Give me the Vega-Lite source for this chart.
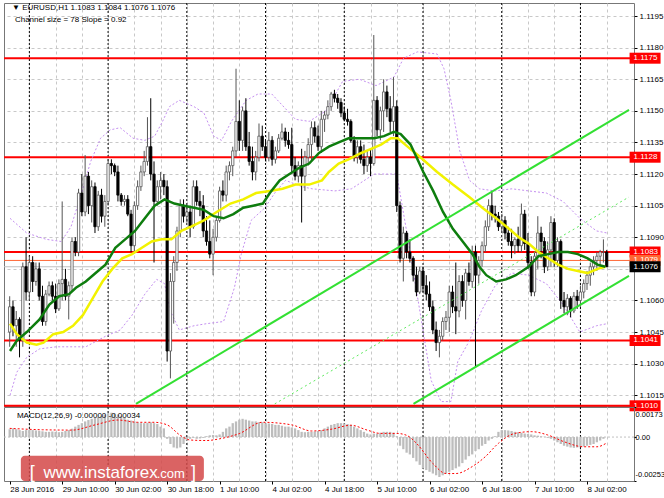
{
  "$schema": "https://vega.github.io/schema/vega-lite/v6.json",
  "background": "white",
  "padding": {"left": 2, "top": 2, "right": 0, "bottom": 0},
  "bounds": "flush",
  "spacing": 1,
  "config": {
    "view": {"stroke": "#777777", "strokeWidth": 1},
    "axis": {"labelFont": "Liberation Sans", "labelFontSize": 8, "labelColor": "#000000", "gridColor": "#c8c8c8", "gridDash": [3, 3], "tickColor": "#000000"},
    "text": {"font": "Liberation Sans", "fontSize": 8}
  },
  "datasets": {
    "days": [{"k": 6}, {"k": 30}, {"k": 54}, {"k": 78}, {"k": 102}, {"k": 126}, {"k": 150}, {"k": 174}],
    "levels": [
      {"p": 1.1175, "kind": "level"}, {"p": 1.1128, "kind": "level"}, {"p": 1.1083, "kind": "level"},
      {"p": 1.1041, "kind": "level"}, {"p": 1.1010, "kind": "level"},
      {"p": 1.1079, "kind": "ask"}, {"p": 1.1076, "kind": "bid"}
    ],
    "channel": [
      {"line": "upper", "k": 38.5, "p": 1.10109}, {"line": "upper", "k": 188.8, "p": 1.11505},
      {"line": "lower", "k": 123.1, "p": 1.10109}, {"line": "lower", "k": 188.8, "p": 1.10717}
    ],
    "channelMid": [{"k": 80.8, "p": 1.10109}, {"k": 188.8, "p": 1.11091}],
    "ohlc": [
      {"k":0,"o":1.1045,"h":1.1062,"l":1.1038,"c":1.1057},{"k":1,"o":1.1057,"h":1.1060,"l":1.1043,"c":1.1048},
      {"k":2,"o":1.1048,"h":1.1055,"l":1.1038,"c":1.1051},{"k":3,"o":1.1051,"h":1.1052,"l":1.1033,"c":1.1041},
      {"k":4,"o":1.1041,"h":1.1078,"l":1.1038,"c":1.1076},{"k":5,"o":1.1076,"h":1.1090,"l":1.1060,"c":1.1064},
      {"k":6,"o":1.1064,"h":1.1081,"l":1.1060,"c":1.1078},{"k":7,"o":1.1078,"h":1.1081,"l":1.1064,"c":1.1069},
      {"k":8,"o":1.1069,"h":1.1078,"l":1.1067,"c":1.1075},{"k":9,"o":1.1075,"h":1.1078,"l":1.1060,"c":1.1062},
      {"k":10,"o":1.1062,"h":1.1067,"l":1.1048,"c":1.1050},{"k":11,"o":1.1050,"h":1.1065,"l":1.1048,"c":1.1063},
      {"k":12,"o":1.1063,"h":1.1069,"l":1.1062,"c":1.1067},{"k":13,"o":1.1067,"h":1.1069,"l":1.1060,"c":1.1062},
      {"k":14,"o":1.1062,"h":1.1068,"l":1.1054,"c":1.1056},{"k":15,"o":1.1056,"h":1.1070,"l":1.1055,"c":1.1068},
      {"k":16,"o":1.1068,"h":1.1107,"l":1.1060,"c":1.1070},{"k":17,"o":1.1070,"h":1.1075,"l":1.1060,"c":1.1062},
      {"k":18,"o":1.1062,"h":1.1069,"l":1.1051,"c":1.1067},{"k":19,"o":1.1067,"h":1.1090,"l":1.1064,"c":1.1088},
      {"k":20,"o":1.1088,"h":1.1090,"l":1.1081,"c":1.1083},{"k":21,"o":1.1083,"h":1.1113,"l":1.1081,"c":1.1111},
      {"k":22,"o":1.1111,"h":1.1120,"l":1.1100,"c":1.1102},{"k":23,"o":1.1102,"h":1.1129,"l":1.1100,"c":1.1119},
      {"k":24,"o":1.1119,"h":1.1121,"l":1.1101,"c":1.1105},{"k":25,"o":1.1105,"h":1.1117,"l":1.1097,"c":1.1114},
      {"k":26,"o":1.1114,"h":1.1116,"l":1.1092,"c":1.1095},{"k":27,"o":1.1095,"h":1.1112,"l":1.1093,"c":1.1110},
      {"k":28,"o":1.1110,"h":1.1113,"l":1.1097,"c":1.1100},{"k":29,"o":1.1100,"h":1.1110,"l":1.1095,"c":1.1107},
      {"k":30,"o":1.1107,"h":1.1127,"l":1.1105,"c":1.1125},{"k":31,"o":1.1125,"h":1.1127,"l":1.1120,"c":1.1124},
      {"k":32,"o":1.1124,"h":1.1125,"l":1.1119,"c":1.1121},{"k":33,"o":1.1121,"h":1.1124,"l":1.1107,"c":1.1110},
      {"k":34,"o":1.1110,"h":1.1111,"l":1.1105,"c":1.1107},{"k":35,"o":1.1107,"h":1.1110,"l":1.1105,"c":1.1108},
      {"k":36,"o":1.1108,"h":1.1110,"l":1.1100,"c":1.1101},{"k":37,"o":1.1101,"h":1.1103,"l":1.1083,"c":1.1086},
      {"k":38,"o":1.1086,"h":1.1107,"l":1.1083,"c":1.1105},{"k":39,"o":1.1105,"h":1.1117,"l":1.1103,"c":1.1114},
      {"k":40,"o":1.1114,"h":1.1124,"l":1.1112,"c":1.1121},{"k":41,"o":1.1121,"h":1.1131,"l":1.1119,"c":1.1126},
      {"k":42,"o":1.1126,"h":1.1147,"l":1.1124,"c":1.1133},{"k":43,"o":1.1133,"h":1.1156,"l":1.1117,"c":1.1120},
      {"k":44,"o":1.1120,"h":1.1126,"l":1.1078,"c":1.1107},{"k":45,"o":1.1107,"h":1.1117,"l":1.1105,"c":1.1114},
      {"k":46,"o":1.1114,"h":1.1121,"l":1.1108,"c":1.1117},{"k":47,"o":1.1117,"h":1.1120,"l":1.1110,"c":1.1114},
      {"k":48,"o":1.1114,"h":1.1117,"l":1.1031,"c":1.1036},{"k":49,"o":1.1036,"h":1.1073,"l":1.1023,"c":1.1069},
      {"k":50,"o":1.1069,"h":1.1081,"l":1.1049,"c":1.1078},{"k":51,"o":1.1078,"h":1.1095,"l":1.1074,"c":1.1093},
      {"k":52,"o":1.1093,"h":1.1108,"l":1.1090,"c":1.1105},{"k":53,"o":1.1105,"h":1.1108,"l":1.1097,"c":1.1100},
      {"k":54,"o":1.1100,"h":1.1105,"l":1.1097,"c":1.1102},{"k":55,"o":1.1102,"h":1.1105,"l":1.1090,"c":1.1095},
      {"k":56,"o":1.1095,"h":1.1117,"l":1.1094,"c":1.1114},{"k":57,"o":1.1114,"h":1.1117,"l":1.1105,"c":1.1107},
      {"k":58,"o":1.1107,"h":1.1112,"l":1.1100,"c":1.1105},{"k":59,"o":1.1105,"h":1.1110,"l":1.1090,"c":1.1093},
      {"k":60,"o":1.1093,"h":1.1100,"l":1.1086,"c":1.1088},{"k":61,"o":1.1088,"h":1.1098,"l":1.1080,"c":1.1082},
      {"k":62,"o":1.1082,"h":1.1094,"l":1.1072,"c":1.1090},{"k":63,"o":1.1090,"h":1.1100,"l":1.1088,"c":1.1098},
      {"k":64,"o":1.1098,"h":1.1114,"l":1.1097,"c":1.1112},{"k":65,"o":1.1112,"h":1.1117,"l":1.1107,"c":1.1110},
      {"k":66,"o":1.1110,"h":1.1124,"l":1.1107,"c":1.1121},{"k":67,"o":1.1121,"h":1.1126,"l":1.1117,"c":1.1124},
      {"k":68,"o":1.1124,"h":1.1133,"l":1.1119,"c":1.1131},{"k":69,"o":1.1131,"h":1.1170,"l":1.1128,"c":1.1145},
      {"k":70,"o":1.1145,"h":1.1155,"l":1.1131,"c":1.1136},{"k":71,"o":1.1136,"h":1.1152,"l":1.1131,"c":1.1150},
      {"k":72,"o":1.1150,"h":1.1156,"l":1.1131,"c":1.1133},{"k":73,"o":1.1133,"h":1.1140,"l":1.1124,"c":1.1126},
      {"k":74,"o":1.1126,"h":1.1133,"l":1.1117,"c":1.1121},{"k":75,"o":1.1121,"h":1.1131,"l":1.1117,"c":1.1128},
      {"k":76,"o":1.1128,"h":1.1144,"l":1.1126,"c":1.1138},{"k":77,"o":1.1138,"h":1.1143,"l":1.1131,"c":1.1133},
      {"k":78,"o":1.1133,"h":1.1136,"l":1.1126,"c":1.1128},{"k":79,"o":1.1128,"h":1.1140,"l":1.1126,"c":1.1136},
      {"k":80,"o":1.1136,"h":1.1138,"l":1.1124,"c":1.1127},{"k":81,"o":1.1127,"h":1.1133,"l":1.1125,"c":1.1131},
      {"k":82,"o":1.1131,"h":1.1139,"l":1.1130,"c":1.1137},{"k":83,"o":1.1137,"h":1.1144,"l":1.1136,"c":1.1140},
      {"k":84,"o":1.1140,"h":1.1142,"l":1.1133,"c":1.1136},{"k":85,"o":1.1136,"h":1.1140,"l":1.1132,"c":1.1134},
      {"k":86,"o":1.1134,"h":1.1142,"l":1.1121,"c":1.1124},{"k":87,"o":1.1124,"h":1.1128,"l":1.1117,"c":1.1119},
      {"k":88,"o":1.1119,"h":1.1126,"l":1.1116,"c":1.1124},{"k":89,"o":1.1124,"h":1.1132,"l":1.1097,"c":1.1119},
      {"k":90,"o":1.1119,"h":1.1131,"l":1.1112,"c":1.1128},{"k":91,"o":1.1128,"h":1.1137,"l":1.1124,"c":1.1134},
      {"k":92,"o":1.1134,"h":1.1145,"l":1.1126,"c":1.1142},{"k":93,"o":1.1142,"h":1.1145,"l":1.1135,"c":1.1138},
      {"k":94,"o":1.1138,"h":1.1143,"l":1.1131,"c":1.1133},{"k":95,"o":1.1133,"h":1.1150,"l":1.1130,"c":1.1146},
      {"k":96,"o":1.1146,"h":1.1150,"l":1.1140,"c":1.1148},{"k":97,"o":1.1148,"h":1.1155,"l":1.1146,"c":1.1152},
      {"k":98,"o":1.1152,"h":1.1159,"l":1.1150,"c":1.1158},{"k":99,"o":1.1158,"h":1.1160,"l":1.1154,"c":1.1156},
      {"k":100,"o":1.1156,"h":1.1158,"l":1.1151,"c":1.1154},{"k":101,"o":1.1154,"h":1.1156,"l":1.1147,"c":1.1149},
      {"k":102,"o":1.1149,"h":1.1152,"l":1.1145,"c":1.1146},{"k":103,"o":1.1146,"h":1.1151,"l":1.1143,"c":1.1145},
      {"k":104,"o":1.1145,"h":1.1146,"l":1.1135,"c":1.1136},{"k":105,"o":1.1136,"h":1.1138,"l":1.1126,"c":1.1128},
      {"k":106,"o":1.1128,"h":1.1136,"l":1.1125,"c":1.1133},{"k":107,"o":1.1133,"h":1.1136,"l":1.1125,"c":1.1127},
      {"k":108,"o":1.1127,"h":1.1134,"l":1.1120,"c":1.1124},{"k":109,"o":1.1124,"h":1.1131,"l":1.1121,"c":1.1128},
      {"k":110,"o":1.1128,"h":1.1132,"l":1.1119,"c":1.1125},{"k":111,"o":1.1125,"h":1.1186,"l":1.1124,"c":1.1155},
      {"k":112,"o":1.1155,"h":1.1157,"l":1.1138,"c":1.1141},{"k":113,"o":1.1141,"h":1.1152,"l":1.1136,"c":1.1150},
      {"k":114,"o":1.1150,"h":1.1165,"l":1.1140,"c":1.1159},{"k":115,"o":1.1159,"h":1.1162,"l":1.1147,"c":1.1151},
      {"k":116,"o":1.1151,"h":1.1157,"l":1.1140,"c":1.1145},{"k":117,"o":1.1145,"h":1.1166,"l":1.1138,"c":1.1152},
      {"k":118,"o":1.1152,"h":1.1155,"l":1.1102,"c":1.1105},{"k":119,"o":1.1105,"h":1.1107,"l":1.1078,"c":1.1080},
      {"k":120,"o":1.1080,"h":1.1095,"l":1.1069,"c":1.1092},{"k":121,"o":1.1092,"h":1.1093,"l":1.1080,"c":1.1083},
      {"k":122,"o":1.1083,"h":1.1089,"l":1.1078,"c":1.1080},{"k":123,"o":1.1080,"h":1.1081,"l":1.1069,"c":1.1072},
      {"k":124,"o":1.1072,"h":1.1076,"l":1.1062,"c":1.1064},{"k":125,"o":1.1064,"h":1.1076,"l":1.1063,"c":1.1074},
      {"k":126,"o":1.1074,"h":1.1076,"l":1.1064,"c":1.1067},{"k":127,"o":1.1067,"h":1.1072,"l":1.1060,"c":1.1063},
      {"k":128,"o":1.1063,"h":1.1069,"l":1.1055,"c":1.1057},{"k":129,"o":1.1057,"h":1.1060,"l":1.1044,"c":1.1046},
      {"k":130,"o":1.1046,"h":1.1050,"l":1.1036,"c":1.1040},{"k":131,"o":1.1040,"h":1.1046,"l":1.1033,"c":1.1043},
      {"k":132,"o":1.1043,"h":1.1052,"l":1.1041,"c":1.1050},{"k":133,"o":1.1050,"h":1.1055,"l":1.1046,"c":1.1052},
      {"k":134,"o":1.1052,"h":1.1067,"l":1.1045,"c":1.1064},{"k":135,"o":1.1064,"h":1.1067,"l":1.1054,"c":1.1057},
      {"k":136,"o":1.1057,"h":1.1078,"l":1.1044,"c":1.1055},{"k":137,"o":1.1055,"h":1.1072,"l":1.1052,"c":1.1069},
      {"k":138,"o":1.1069,"h":1.1072,"l":1.1057,"c":1.1060},{"k":139,"o":1.1060,"h":1.1075,"l":1.1051,"c":1.1073},
      {"k":140,"o":1.1073,"h":1.1078,"l":1.1067,"c":1.1069},{"k":141,"o":1.1069,"h":1.1086,"l":1.1066,"c":1.1083},
      {"k":142,"o":1.1083,"h":1.1086,"l":1.1028,"c":1.1072},{"k":143,"o":1.1072,"h":1.1081,"l":1.1068,"c":1.1079},
      {"k":144,"o":1.1079,"h":1.1088,"l":1.1076,"c":1.1086},{"k":145,"o":1.1086,"h":1.1098,"l":1.1083,"c":1.1095},
      {"k":146,"o":1.1095,"h":1.1108,"l":1.1093,"c":1.1105},{"k":147,"o":1.1105,"h":1.1112,"l":1.1098,"c":1.1101},
      {"k":148,"o":1.1101,"h":1.1105,"l":1.1097,"c":1.1100},{"k":149,"o":1.1100,"h":1.1102,"l":1.1093,"c":1.1095},
      {"k":150,"o":1.1095,"h":1.1101,"l":1.1092,"c":1.1098},{"k":151,"o":1.1098,"h":1.1100,"l":1.1089,"c":1.1092},
      {"k":152,"o":1.1092,"h":1.1095,"l":1.1086,"c":1.1088},{"k":153,"o":1.1088,"h":1.1094,"l":1.1080,"c":1.1086},
      {"k":154,"o":1.1086,"h":1.1090,"l":1.1082,"c":1.1089},{"k":155,"o":1.1089,"h":1.1095,"l":1.1083,"c":1.1086},
      {"k":156,"o":1.1086,"h":1.1106,"l":1.1083,"c":1.1101},{"k":157,"o":1.1101,"h":1.1103,"l":1.1084,"c":1.1087},
      {"k":158,"o":1.1087,"h":1.1092,"l":1.1075,"c":1.1078},{"k":159,"o":1.1078,"h":1.1081,"l":1.1062,"c":1.1064},
      {"k":160,"o":1.1064,"h":1.1083,"l":1.1062,"c":1.1081},{"k":161,"o":1.1081,"h":1.1100,"l":1.1075,"c":1.1092},
      {"k":162,"o":1.1092,"h":1.1095,"l":1.1080,"c":1.1088},{"k":163,"o":1.1088,"h":1.1090,"l":1.1073,"c":1.1076},
      {"k":164,"o":1.1076,"h":1.1088,"l":1.1074,"c":1.1084},{"k":165,"o":1.1084,"h":1.1100,"l":1.1076,"c":1.1097},
      {"k":166,"o":1.1097,"h":1.1099,"l":1.1076,"c":1.1079},{"k":167,"o":1.1079,"h":1.1090,"l":1.1076,"c":1.1088},
      {"k":168,"o":1.1088,"h":1.1089,"l":1.1056,"c":1.1060},{"k":169,"o":1.1060,"h":1.1064,"l":1.1054,"c":1.1057},
      {"k":170,"o":1.1057,"h":1.1063,"l":1.1053,"c":1.1061},{"k":171,"o":1.1061,"h":1.1062,"l":1.1052,"c":1.1055},
      {"k":172,"o":1.1055,"h":1.1064,"l":1.1054,"c":1.1062},{"k":173,"o":1.1062,"h":1.1065,"l":1.1056,"c":1.1060},
      {"k":174,"o":1.1060,"h":1.1067,"l":1.1057,"c":1.1064},{"k":175,"o":1.1064,"h":1.1070,"l":1.1061,"c":1.1068},
      {"k":176,"o":1.1068,"h":1.1074,"l":1.1065,"c":1.1072},{"k":177,"o":1.1072,"h":1.1078,"l":1.1067,"c":1.1076},
      {"k":178,"o":1.1076,"h":1.1081,"l":1.1072,"c":1.1079},{"k":179,"o":1.1079,"h":1.1083,"l":1.1074,"c":1.1081},
      {"k":180,"o":1.1081,"h":1.1084,"l":1.1076,"c":1.1083},{"k":181,"o":1.1083,"h":1.1089,"l":1.1078,"c":1.1083},
      {"k":182,"o":1.1083,"h":1.1084,"l":1.1076,"c":1.1076}
    ],
    "maFast": [
      {"k":0.1,"p":1.1036},{"k":2.2,"p":1.1041},{"k":5.2,"p":1.1045},{"k":9.1,"p":1.1051},{"k":12.1,"p":1.1058},
      {"k":15.1,"p":1.1062},{"k":18.1,"p":1.1063},{"k":20.2,"p":1.1066},{"k":23.2,"p":1.1069},{"k":26.2,"p":1.1073},
      {"k":29.2,"p":1.1077},{"k":32.2,"p":1.1085},{"k":35.2,"p":1.1089},{"k":38.2,"p":1.1093},{"k":41.2,"p":1.1099},
      {"k":44.2,"p":1.1105},{"k":47.2,"p":1.1108},{"k":50.2,"p":1.1106},{"k":53.2,"p":1.1105},{"k":56.2,"p":1.1104},
      {"k":59.2,"p":1.1103},{"k":62.2,"p":1.1100},{"k":65.2,"p":1.1099},{"k":68.2,"p":1.1101},{"k":71.2,"p":1.1104},
      {"k":74.2,"p":1.1105},{"k":77.2,"p":1.1106},{"k":79.3,"p":1.1111},{"k":82.3,"p":1.1117},{"k":85.3,"p":1.1120},
      {"k":88.3,"p":1.1123},{"k":91.3,"p":1.1125},{"k":94.3,"p":1.1130},{"k":97.3,"p":1.1133},{"k":100.3,"p":1.1135},
      {"k":103.3,"p":1.1137},{"k":108.1,"p":1.1137},{"k":111.1,"p":1.1137},{"k":114.1,"p":1.1138},{"k":117.1,"p":1.1140},
      {"k":119.2,"p":1.1139},{"k":122.2,"p":1.1134},{"k":124.3,"p":1.1127},{"k":126.1,"p":1.1121},{"k":129.1,"p":1.1112},
      {"k":132.1,"p":1.1102},{"k":135.1,"p":1.1094},{"k":138.1,"p":1.1088},{"k":141.1,"p":1.1082},{"k":143.2,"p":1.1076},
      {"k":145.3,"p":1.1072},{"k":148.3,"p":1.1069},{"k":151.3,"p":1.1070},{"k":154.3,"p":1.1072},{"k":158.2,"p":1.1076},
      {"k":161.2,"p":1.1081},{"k":164.2,"p":1.1082},{"k":167.2,"p":1.1083},{"k":170.2,"p":1.1083},{"k":173.2,"p":1.1082},
      {"k":176.2,"p":1.1080},{"k":179.2,"p":1.1077},{"k":181.6,"p":1.1076}
    ],
    "maSlow": [
      {"k":0.1,"p":1.1049},{"k":2.2,"p":1.1044},{"k":5.2,"p":1.1040},{"k":8.2,"p":1.1039},{"k":10.3,"p":1.1040},
      {"k":13.3,"p":1.1044},{"k":16.3,"p":1.1045},{"k":19.3,"p":1.1048},{"k":22.3,"p":1.1053},{"k":25.3,"p":1.1061},
      {"k":28.3,"p":1.1069},{"k":31.3,"p":1.1075},{"k":34.3,"p":1.1080},{"k":37.3,"p":1.1082},{"k":40.3,"p":1.1085},
      {"k":43.3,"p":1.1088},{"k":46.3,"p":1.1089},{"k":49.3,"p":1.1089},{"k":52.3,"p":1.1093},{"k":55.3,"p":1.1095},
      {"k":59.2,"p":1.1098},{"k":63.1,"p":1.1102},{"k":67.3,"p":1.1106},{"k":71.2,"p":1.1108},{"k":75.1,"p":1.1111},
      {"k":79.3,"p":1.1112},{"k":83.2,"p":1.1113},{"k":87.1,"p":1.1115},{"k":91.3,"p":1.1115},{"k":95.2,"p":1.1117},
      {"k":97.3,"p":1.1121},{"k":100.3,"p":1.1125},{"k":103.3,"p":1.1127},{"k":107.2,"p":1.1130},{"k":110.2,"p":1.1132},
      {"k":113.2,"p":1.1134},{"k":116.2,"p":1.1137},{"k":118.3,"p":1.1137},{"k":121.3,"p":1.1133},{"k":125.2,"p":1.1128},
      {"k":130.3,"p":1.1121},{"k":135.1,"p":1.1115},{"k":140.2,"p":1.1109},{"k":144.1,"p":1.1104},{"k":148.3,"p":1.1099},
      {"k":152.2,"p":1.1094},{"k":155.2,"p":1.1090},{"k":158.2,"p":1.1087},{"k":161.2,"p":1.1083},{"k":164.2,"p":1.1080},
      {"k":167.2,"p":1.1077},{"k":170.2,"p":1.1075},{"k":173.2,"p":1.1074},{"k":176.2,"p":1.1073},{"k":179.2,"p":1.1075},
      {"k":181.6,"p":1.1076}
    ],
    "bands": [
      {"band":"upper","k":0.1,"p":1.1099},{"band":"upper","k":5.2,"p":1.1092},{"band":"upper","k":11.2,"p":1.1089},
      {"band":"upper","k":15.7,"p":1.1088},{"band":"upper","k":18.7,"p":1.1095},{"band":"upper","k":21.7,"p":1.1110},
      {"band":"upper","k":24.7,"p":1.1126},{"band":"upper","k":27.7,"p":1.1137},{"band":"upper","k":30.7,"p":1.1141},
      {"band":"upper","k":33.7,"p":1.1142},{"band":"upper","k":37.6,"p":1.1137},{"band":"upper","k":41.2,"p":1.1136},
      {"band":"upper","k":44.2,"p":1.1138},{"band":"upper","k":46.6,"p":1.1145},{"band":"upper","k":48.7,"p":1.1152},
      {"band":"upper","k":51.7,"p":1.1155},{"band":"upper","k":56.2,"p":1.1152},{"band":"upper","k":59.2,"p":1.1149},
      {"band":"upper","k":62.2,"p":1.1138},{"band":"upper","k":64.6,"p":1.1136},{"band":"upper","k":67.6,"p":1.1145},
      {"band":"upper","k":72.1,"p":1.1155},{"band":"upper","k":75.7,"p":1.1158},{"band":"upper","k":79.9,"p":1.1158},
      {"band":"upper","k":82.9,"p":1.1153},{"band":"upper","k":87.1,"p":1.1146},{"band":"upper","k":91.3,"p":1.1145},
      {"band":"upper","k":96.4,"p":1.1150},{"band":"upper","k":101.5,"p":1.1164},{"band":"upper","k":106.6,"p":1.1165},
      {"band":"upper","k":111.7,"p":1.1162},{"band":"upper","k":117.1,"p":1.1166},{"band":"upper","k":120.1,"p":1.1175},
      {"band":"upper","k":124.3,"p":1.1178},{"band":"upper","k":130.3,"p":1.1177},{"band":"upper","k":132.4,"p":1.1170},
      {"band":"upper","k":134.5,"p":1.1155},{"band":"upper","k":137.2,"p":1.1131},{"band":"upper","k":140.2,"p":1.1117},
      {"band":"upper","k":143.2,"p":1.1113},{"band":"upper","k":148.0,"p":1.1112},{"band":"upper","k":153.1,"p":1.1113},
      {"band":"upper","k":158.2,"p":1.1112},{"band":"upper","k":163.6,"p":1.1111},{"band":"upper","k":168.7,"p":1.1107},
      {"band":"upper","k":173.8,"p":1.1099},{"band":"upper","k":178.9,"p":1.1093},{"band":"upper","k":182.2,"p":1.1092},
      {"band":"lower","k":0.1,"p":1.1015},{"band":"lower","k":2.2,"p":1.1026},{"band":"lower","k":5.2,"p":1.1033},
      {"band":"lower","k":9.1,"p":1.1037},{"band":"lower","k":14.2,"p":1.1038},{"band":"lower","k":19.3,"p":1.1038},
      {"band":"lower","k":23.2,"p":1.1038},{"band":"lower","k":29.2,"p":1.1043},{"band":"lower","k":33.7,"p":1.1046},
      {"band":"lower","k":37.3,"p":1.1053},{"band":"lower","k":41.2,"p":1.1063},{"band":"lower","k":44.8,"p":1.1070},
      {"band":"lower","k":47.2,"p":1.1068},{"band":"lower","k":49.0,"p":1.1055},{"band":"lower","k":51.7,"p":1.1046},
      {"band":"lower","k":56.2,"p":1.1048},{"band":"lower","k":60.1,"p":1.1049},{"band":"lower","k":65.2,"p":1.1050},
      {"band":"lower","k":68.5,"p":1.1066},{"band":"lower","k":70.6,"p":1.1082},{"band":"lower","k":73.6,"p":1.1098},
      {"band":"lower","k":77.8,"p":1.1104},{"band":"lower","k":80.8,"p":1.1111},{"band":"lower","k":84.1,"p":1.1117},
      {"band":"lower","k":89.2,"p":1.1114},{"band":"lower","k":92.2,"p":1.1113},{"band":"lower","k":99.1,"p":1.1112},
      {"band":"lower","k":104.2,"p":1.1113},{"band":"lower","k":111.1,"p":1.1120},{"band":"lower","k":118.0,"p":1.1120},
      {"band":"lower","k":122.2,"p":1.1082},{"band":"lower","k":126.4,"p":1.1042},{"band":"lower","k":128.5,"p":1.1022},
      {"band":"lower","k":131.5,"p":1.1012},{"band":"lower","k":134.5,"p":1.1012},{"band":"lower","k":136.6,"p":1.1031},
      {"band":"lower","k":140.2,"p":1.1041},{"band":"lower","k":143.8,"p":1.1055},{"band":"lower","k":148.0,"p":1.1067},
      {"band":"lower","k":153.1,"p":1.1073},{"band":"lower","k":158.2,"p":1.1072},{"band":"lower","k":163.6,"p":1.1068},
      {"band":"lower","k":168.7,"p":1.1058},{"band":"lower","k":173.8,"p":1.1045},{"band":"lower","k":178.9,"p":1.1048},
      {"band":"lower","k":182.2,"p":1.1049}
    ],
    "macd": [
      {"k":0,"m":0.00045},{"k":1,"m":0.0005},{"k":2,"m":0.00045},{"k":3,"m":0.0004},{"k":4,"m":0.00035},{"k":5,"m":0.0004},
      {"k":6,"m":0.00042},{"k":7,"m":0.0004},{"k":8,"m":0.00038},{"k":9,"m":0.00036},{"k":10,"m":0.00033},{"k":11,"m":0.0003},
      {"k":12,"m":0.0003},{"k":13,"m":0.00032},{"k":14,"m":0.0003},{"k":15,"m":0.00028},{"k":16,"m":0.0003},{"k":17,"m":0.00035},
      {"k":18,"m":0.0004},{"k":19,"m":0.00048},{"k":20,"m":0.0006},{"k":21,"m":0.0007},{"k":22,"m":0.0008},{"k":23,"m":0.0009},
      {"k":24,"m":0.00098},{"k":25,"m":0.00105},{"k":26,"m":0.0011},{"k":27,"m":0.00115},{"k":28,"m":0.0012},{"k":29,"m":0.0013},
      {"k":30,"m":0.00137},{"k":31,"m":0.0014},{"k":32,"m":0.00135},{"k":33,"m":0.0013},{"k":34,"m":0.0012},{"k":35,"m":0.0011},
      {"k":36,"m":0.001},{"k":37,"m":0.00095},{"k":38,"m":0.0009},{"k":39,"m":0.00085},{"k":40,"m":0.0008},{"k":41,"m":0.0008},
      {"k":42,"m":0.00082},{"k":43,"m":0.00085},{"k":44,"m":0.0008},{"k":45,"m":0.00075},{"k":46,"m":0.0006},{"k":47,"m":0.0005},
      {"k":48,"m":-0.0001},{"k":49,"m":-0.0004},{"k":50,"m":-0.0006},{"k":51,"m":-0.00065},{"k":52,"m":-0.0006},{"k":53,"m":-0.0004},
      {"k":54,"m":-0.0002},{"k":55,"m":-0.0001},{"k":56,"m":-0.00005},{"k":57,"m":-0.0001},{"k":58,"m":-0.00008},{"k":59,"m":-0.00005},
      {"k":60,"m":0.00005},{"k":61,"m":0.0001},{"k":62,"m":0.00012},{"k":63,"m":0.0001},{"k":64,"m":0.00015},{"k":65,"m":0.0003},
      {"k":66,"m":0.0005},{"k":67,"m":0.0006},{"k":68,"m":0.0008},{"k":69,"m":0.0009},{"k":70,"m":0.001},{"k":71,"m":0.00105},
      {"k":72,"m":0.001},{"k":73,"m":0.00095},{"k":74,"m":0.0009},{"k":75,"m":0.0009},{"k":76,"m":0.00085},{"k":77,"m":0.00085},
      {"k":78,"m":0.0008},{"k":79,"m":0.00078},{"k":80,"m":0.00075},{"k":81,"m":0.0007},{"k":82,"m":0.0007},{"k":83,"m":0.00065},
      {"k":84,"m":0.0006},{"k":85,"m":0.0006},{"k":86,"m":0.00055},{"k":87,"m":0.0005},{"k":88,"m":0.0004},{"k":89,"m":0.0003},
      {"k":90,"m":0.00028},{"k":91,"m":0.0003},{"k":92,"m":0.0003},{"k":93,"m":0.00032},{"k":94,"m":0.00035},{"k":95,"m":0.0004},
      {"k":96,"m":0.0005},{"k":97,"m":0.0006},{"k":98,"m":0.0007},{"k":99,"m":0.00075},{"k":100,"m":0.0008},{"k":101,"m":0.0008},
      {"k":102,"m":0.00078},{"k":103,"m":0.00075},{"k":104,"m":0.0007},{"k":105,"m":0.0006},{"k":106,"m":0.0005},{"k":107,"m":0.0004},
      {"k":108,"m":0.0003},{"k":109,"m":0.0002},{"k":110,"m":0.00015},{"k":111,"m":0.0002},{"k":112,"m":0.0002},{"k":113,"m":0.00025},
      {"k":114,"m":0.0003},{"k":115,"m":0.0003},{"k":116,"m":0.0003},{"k":117,"m":0.00025},{"k":118,"m":0.00005},{"k":119,"m":-0.0005},
      {"k":120,"m":-0.0007},{"k":121,"m":-0.0009},{"k":122,"m":-0.001},{"k":123,"m":-0.0012},{"k":124,"m":-0.0014},{"k":125,"m":-0.0016},
      {"k":126,"m":-0.0018},{"k":127,"m":-0.0019},{"k":128,"m":-0.002},{"k":129,"m":-0.0021},{"k":130,"m":-0.0022},{"k":131,"m":-0.0023},
      {"k":132,"m":-0.0022},{"k":133,"m":-0.0021},{"k":134,"m":-0.002},{"k":135,"m":-0.0019},{"k":136,"m":-0.0018},{"k":137,"m":-0.0017},
      {"k":138,"m":-0.0015},{"k":139,"m":-0.0013},{"k":140,"m":-0.0011},{"k":141,"m":-0.001},{"k":142,"m":-0.0008},{"k":143,"m":-0.0007},
      {"k":144,"m":-0.0005},{"k":145,"m":-0.0004},{"k":146,"m":-0.0002},{"k":147,"m":-0.0001},{"k":148,"m":0.00005},{"k":149,"m":0.0003},
      {"k":150,"m":0.0004},{"k":151,"m":0.0004},{"k":152,"m":0.00038},{"k":153,"m":0.00035},{"k":154,"m":0.0003},{"k":155,"m":0.00028},
      {"k":156,"m":0.00025},{"k":157,"m":0.0002},{"k":158,"m":0.00018},{"k":159,"m":0.00015},{"k":160,"m":0.0001},{"k":161,"m":0.00008},
      {"k":162,"m":0.00005},{"k":163,"m":0.00002},{"k":164,"m":-0.00005},{"k":165,"m":-0.0001},{"k":166,"m":-0.0002},{"k":167,"m":-0.0003},
      {"k":168,"m":-0.0004},{"k":169,"m":-0.0005},{"k":170,"m":-0.00055},{"k":171,"m":-0.0006},{"k":172,"m":-0.00062},{"k":173,"m":-0.0006},
      {"k":174,"m":-0.00058},{"k":175,"m":-0.00055},{"k":176,"m":-0.0005},{"k":177,"m":-0.00045},{"k":178,"m":-0.0004},{"k":179,"m":-0.0003},
      {"k":180,"m":-0.0002},{"k":181,"m":-0.0001},{"k":182,"m":0}
    ],
    "signal": [
      {"k":0,"s":0.0005},{"k":10,"s":0.00042},{"k":19,"s":0.0004},{"k":26,"s":0.0007},{"k":33,"s":0.00098},{"k":39,"s":0.00085},
      {"k":44,"s":0.00085},{"k":48,"s":0.0007},{"k":52,"s":0.0001},{"k":55,"s":-0.00017},{"k":60,"s":-0.0002},{"k":64,"s":-0.0001},
      {"k":70,"s":0.0002},{"k":77,"s":0.00085},{"k":86,"s":0.0007},{"k":92,"s":0.00035},{"k":98,"s":0.00045},{"k":104,"s":0.00068},
      {"k":109,"s":0.0004},{"k":113,"s":0.00021},{"k":118,"s":0.00021},{"k":121,"s":0.0001},{"k":124,"s":-0.00036},{"k":129,"s":-0.00152},
      {"k":133,"s":-0.0021},{"k":136,"s":-0.0021},{"k":141,"s":-0.0017},{"k":145,"s":-0.00113},{"k":149,"s":-0.00036},{"k":154,"s":0.00021},
      {"k":159,"s":0.00031},{"k":164,"s":0.00012},{"k":169,"s":-0.00027},{"k":175,"s":-0.00056},{"k":179,"s":-0.00056},{"k":182,"s":-0.00034}
    ],
    "wm": [{"a": "[", "b": "www.instaforex", "c": ".com", "d": "]"}]
  },
  "vconcat": [
    {
      "width": 630,
      "height": 403,
      "layer": [
        {
          "data": {"name": "days"},
          "mark": {"type": "rule", "stroke": "#000000", "strokeDash": [2, 2], "strokeWidth": 1},
          "encoding": {
            "x": {"field": "k", "type": "quantitative",
              "scale": {"domain": [-0.21, 188.8], "nice": false, "zero": false},
              "axis": {"orient": "bottom", "values": [6,14,22,30,38,46,54,62,70,78,86,94,102,110,118,126,134,142,150,158,166,174,182],
                "tickCount": 60, "labels": false, "ticks": false, "domain": false, "grid": true, "title": null}}
          }
        },
        {
          "data": {"name": "levels"},
          "transform": [{"filter": "datum.kind == 'level'"}],
          "mark": {"type": "rule", "stroke": "#ff0000", "strokeWidth": 2},
          "encoding": {
            "y": {"field": "p", "type": "quantitative",
              "scale": {"domain": [1.10099, 1.12012], "nice": false, "zero": false},
              "axis": {"orient": "right", "values": [1.1015,1.103,1.1045,1.106,1.1075,1.109,1.1105,1.112,1.1135,1.115,1.1165,1.118,1.1195],
                "labelExpr": "abs(datum.value - 1.1075) < 0.00001 ? '' : format(datum.value, '.4f')",
                "tickCount": 40, "labelOverlap": false,
                "grid": true, "tickSize": 3, "labelPadding": 2, "domain": false, "title": null}}
          }
        },
        {
          "data": {"name": "levels"},
          "transform": [{"filter": "datum.kind == 'ask'"}],
          "mark": {"type": "rule", "stroke": "#ff6633", "strokeWidth": 1},
          "encoding": {"y": {"field": "p", "type": "quantitative", "scale": {"domain": [1.10099, 1.12012], "nice": false, "zero": false}}}
        },
        {
          "data": {"name": "levels"},
          "transform": [{"filter": "datum.kind == 'bid'"}],
          "mark": {"type": "rule", "stroke": "#c0c0c0", "strokeWidth": 1},
          "encoding": {"y": {"field": "p", "type": "quantitative", "scale": {"domain": [1.10099, 1.12012], "nice": false, "zero": false}}}
        },
        {
          "data": {"name": "bands"},
          "mark": {"type": "line", "stroke": "#c48ff0", "strokeDash": [2, 2], "strokeWidth": 1, "clip": true},
          "encoding": {
            "x": {"field": "k", "type": "quantitative", "scale": {"domain": [-0.21, 188.8], "nice": false, "zero": false}},
            "y": {"field": "p", "type": "quantitative", "scale": {"domain": [1.10099, 1.12012], "nice": false, "zero": false}},
            "detail": {"field": "band"}
          }
        },
        {
          "data": {"name": "ohlc"},
          "mark": {"type": "rule", "strokeWidth": 1, "clip": true},
          "encoding": {
            "x": {"field": "k", "type": "quantitative", "scale": {"domain": [-0.21, 188.8], "nice": false, "zero": false}},
            "y": {"field": "l", "type": "quantitative", "scale": {"domain": [1.10099, 1.12012], "nice": false, "zero": false}},
            "y2": {"field": "h"},
            "color": {"condition": {"test": "datum.c >= datum.o", "value": "#555555"}, "value": "#000000"}
          }
        },
        {
          "data": {"name": "ohlc"},
          "mark": {"type": "bar", "width": 2.3, "strokeWidth": 0.8, "clip": true},
          "encoding": {
            "x": {"field": "k", "type": "quantitative", "scale": {"domain": [-0.21, 188.8], "nice": false, "zero": false}},
            "y": {"field": "o", "type": "quantitative", "scale": {"domain": [1.10099, 1.12012], "nice": false, "zero": false}},
            "y2": {"field": "c"},
            "fill": {"condition": {"test": "datum.c >= datum.o", "value": "#ffffff"}, "value": "#000000"},
            "stroke": {"condition": {"test": "datum.c >= datum.o", "value": "#555555"}, "value": "#000000"}
          }
        },
        {
          "data": {"name": "maSlow"},
          "mark": {"type": "line", "stroke": "#f2f200", "strokeWidth": 2.5, "clip": true},
          "encoding": {
            "x": {"field": "k", "type": "quantitative", "scale": {"domain": [-0.21, 188.8], "nice": false, "zero": false}},
            "y": {"field": "p", "type": "quantitative", "scale": {"domain": [1.10099, 1.12012], "nice": false, "zero": false}}
          }
        },
        {
          "data": {"name": "maFast"},
          "mark": {"type": "line", "stroke": "#0e7d0e", "strokeWidth": 2.5, "clip": true},
          "encoding": {
            "x": {"field": "k", "type": "quantitative", "scale": {"domain": [-0.21, 188.8], "nice": false, "zero": false}},
            "y": {"field": "p", "type": "quantitative", "scale": {"domain": [1.10099, 1.12012], "nice": false, "zero": false}}
          }
        },
        {
          "data": {"name": "channel"},
          "mark": {"type": "line", "stroke": "#33e033", "strokeWidth": 2, "clip": true},
          "encoding": {
            "x": {"field": "k", "type": "quantitative", "scale": {"domain": [-0.21, 188.8], "nice": false, "zero": false}},
            "y": {"field": "p", "type": "quantitative", "scale": {"domain": [1.10099, 1.12012], "nice": false, "zero": false}},
            "detail": {"field": "line"}
          }
        },
        {
          "data": {"name": "channelMid"},
          "mark": {"type": "line", "stroke": "#5fea5f", "strokeDash": [2, 3], "strokeWidth": 1, "clip": true},
          "encoding": {
            "x": {"field": "k", "type": "quantitative", "scale": {"domain": [-0.21, 188.8], "nice": false, "zero": false}},
            "y": {"field": "p", "type": "quantitative", "scale": {"domain": [1.10099, 1.12012], "nice": false, "zero": false}}
          }
        },
        {
          "data": {"name": "levels"},
          "transform": [{"filter": "datum.kind != 'bid'"}],
          "mark": {"type": "tick", "orient": "horizontal", "size": 31, "thickness": 11, "opacity": 1, "clip": false},
          "encoding": {
            "x": {"datum": 193.7, "type": "quantitative", "scale": {"domain": [-0.21, 188.8], "nice": false, "zero": false}},
            "y": {"field": "p", "type": "quantitative", "scale": {"domain": [1.10099, 1.12012], "nice": false, "zero": false}},
            "color": {"field": "kind", "type": "nominal", "scale": {"domain": ["level", "ask", "bid"], "range": ["#ff0000", "#ff6633", "#000000"]}, "legend": null}
          }
        },
        {
          "data": {"name": "levels"},
          "transform": [{"filter": "datum.kind != 'bid'"}],
          "mark": {"type": "text", "align": "left", "baseline": "middle", "color": "#ffffff", "fontSize": 8, "clip": false},
          "encoding": {
            "x": {"datum": 190.2, "type": "quantitative", "scale": {"domain": [-0.21, 188.8], "nice": false, "zero": false}},
            "y": {"field": "p", "type": "quantitative", "scale": {"domain": [1.10099, 1.12012], "nice": false, "zero": false}},
            "text": {"field": "p", "type": "quantitative", "format": ".4f"}
          }
        },
        {
          "data": {"name": "levels"},
          "transform": [{"filter": "datum.kind == 'bid'"}],
          "mark": {"type": "tick", "orient": "horizontal", "size": 31, "thickness": 11, "opacity": 1, "color": "#000000", "clip": false},
          "encoding": {
            "x": {"datum": 193.7, "type": "quantitative", "scale": {"domain": [-0.21, 188.8], "nice": false, "zero": false}},
            "y": {"field": "p", "type": "quantitative", "scale": {"domain": [1.10099, 1.12012], "nice": false, "zero": false}}
          }
        },
        {
          "data": {"name": "levels"},
          "transform": [{"filter": "datum.kind == 'bid'"}],
          "mark": {"type": "text", "align": "left", "baseline": "middle", "color": "#ffffff", "fontSize": 8, "clip": false},
          "encoding": {
            "x": {"datum": 190.2, "type": "quantitative", "scale": {"domain": [-0.21, 188.8], "nice": false, "zero": false}},
            "y": {"field": "p", "type": "quantitative", "scale": {"domain": [1.10099, 1.12012], "nice": false, "zero": false}},
            "text": {"field": "p", "type": "quantitative", "format": ".4f"}
          }
        },
        {
          "data": {"values": [{"t": "▼ EURUSD,H1  1.1083 1.1084 1.1076 1.1076"}]},
          "mark": {"type": "text", "align": "left", "baseline": "middle", "color": "#000000", "fontSize": 8},
          "encoding": {
            "x": {"datum": 0.7, "type": "quantitative", "scale": {"domain": [-0.21, 188.8], "nice": false, "zero": false}},
            "y": {"datum": 1.11986, "type": "quantitative", "scale": {"domain": [1.10099, 1.12012], "nice": false, "zero": false}},
            "text": {"field": "t"}
          }
        },
        {
          "data": {"values": [{"t": "Channel size = 78 Slope = 0.92"}]},
          "mark": {"type": "text", "align": "left", "baseline": "middle", "color": "#000000", "fontSize": 8},
          "encoding": {
            "x": {"datum": 1.6, "type": "quantitative", "scale": {"domain": [-0.21, 188.8], "nice": false, "zero": false}},
            "y": {"datum": 1.1193, "type": "quantitative", "scale": {"domain": [1.10099, 1.12012], "nice": false, "zero": false}},
            "text": {"field": "t"}
          }
        }
      ]
    },
    {
      "width": 630,
      "height": 74,
      "resolve": {"axis": {"x": "independent"}},
      "layer": [
        {
          "data": {"name": "days"},
          "mark": {"type": "rule", "stroke": "#000000", "strokeDash": [2, 2], "strokeWidth": 1},
          "encoding": {
            "x": {"field": "k", "type": "quantitative",
              "scale": {"domain": [-0.21, 188.8], "nice": false, "zero": false},
              "axis": {"orient": "bottom", "values": [6,14,22,30,38,46,54,62,70,78,86,94,102,110,118,126,134,142,150,158,166,174,182],
                "tickCount": 60, "labels": false, "ticks": false, "domain": false, "grid": true, "title": null}}
          }
        },
        {
          "data": {"values": [{"level": 0}]},
          "mark": {"type": "rule", "stroke": "#c0c0c0", "strokeDash": [2, 2], "strokeWidth": 1},
          "encoding": {
            "y": {"field": "level", "type": "quantitative", "scale": {"domain": [-0.00253, 0.00173], "nice": false, "zero": false}}
          }
        },
        {
          "data": {"name": "macd"},
          "mark": {"type": "bar", "width": 2.3, "color": "#bdbdbd", "clip": true},
          "encoding": {
            "x": {"field": "k", "type": "quantitative", "scale": {"domain": [-0.21, 188.8], "nice": false, "zero": false},
              "axis": {"orient": "bottom", "values": [0,16,32,48,64,80,96,112,128,144,160,176], "tickCount": 40,
                "labelExpr": "['28 Jun 2016','29 Jun 10:00','30 Jun 02:00','30 Jun 18:00','1 Jul 10:00','4 Jul 02:00','4 Jul 18:00','5 Jul 10:00','6 Jul 02:00','6 Jul 18:00','7 Jul 10:00','8 Jul 02:00'][round(datum.value / 16)]",
                "labelAlign": "left", "labelFlush": false, "labelOverlap": false, "labelBound": false,
                "grid": false, "tickSize": 3, "labelPadding": 1, "domain": false, "title": null}},
            "y": {"field": "m", "type": "quantitative",
              "scale": {"domain": [-0.00253, 0.00173], "nice": false, "zero": false},
              "axis": {"orient": "right", "values": [-0.00253, 0, 0.00173], "tickCount": 10,
                "labelExpr": "datum.value > 0 ? '0.00173' : (datum.value < 0 ? '-0.00253' : '0.00')",
                "labelFontSize": 7.5,
                "labelFlush": true, "labelFlushOffset": -3, "labelOverlap": false, "grid": false, "tickSize": 2, "labelPadding": -1, "domain": false, "title": null}},
            "y2": {"datum": 0}
          }
        },
        {
          "data": {"name": "signal"},
          "mark": {"type": "line", "stroke": "#ff0000", "strokeDash": [2, 2], "strokeWidth": 1, "interpolate": "monotone", "clip": true},
          "encoding": {
            "x": {"field": "k", "type": "quantitative", "scale": {"domain": [-0.21, 188.8], "nice": false, "zero": false}, "axis": null},
            "y": {"field": "s", "type": "quantitative", "scale": {"domain": [-0.00253, 0.00173], "nice": false, "zero": false}}
          }
        },
        {
          "data": {"values": [{"t": "MACD(12,26,9) -0.00000 -0.00034"}]},
          "mark": {"type": "text", "align": "left", "baseline": "middle", "color": "#000000", "fontSize": 8},
          "encoding": {
            "x": {"datum": 2.2, "type": "quantitative", "scale": {"domain": [-0.21, 188.8], "nice": false, "zero": false}, "axis": null},
            "y": {"datum": 0.00122, "type": "quantitative", "scale": {"domain": [-0.00253, 0.00173], "nice": false, "zero": false}},
            "text": {"field": "t"}
          }
        },
        {
          "data": {"name": "wm"},
          "mark": {"type": "rect", "fill": "#d44848", "fillOpacity": 0.85, "cornerRadius": 4, "clip": false},
          "encoding": {
            "x": {"datum": 3.4, "type": "quantitative", "scale": {"domain": [-0.21, 188.8], "nice": false, "zero": false}, "axis": null},
            "x2": {"datum": 59.2},
            "y": {"datum": -0.00108, "type": "quantitative", "scale": {"domain": [-0.00253, 0.00173], "nice": false, "zero": false}},
            "y2": {"datum": -0.00253}
          }
        },
        {
          "data": {"name": "wm"},
          "mark": {"type": "text", "align": "left", "baseline": "alphabetic", "color": "#ffffff", "fontSize": 18},
          "encoding": {
            "x": {"datum": 6.1, "type": "quantitative", "scale": {"domain": [-0.21, 188.8], "nice": false, "zero": false}, "axis": null},
            "y": {"datum": -0.00236, "type": "quantitative", "scale": {"domain": [-0.00253, 0.00173], "nice": false, "zero": false}},
            "text": {"field": "a"}
          }
        },
        {
          "data": {"name": "wm"},
          "mark": {"type": "text", "align": "left", "baseline": "alphabetic", "color": "#ffffff", "fontSize": 17},
          "encoding": {
            "x": {"datum": 10.3, "type": "quantitative", "scale": {"domain": [-0.21, 188.8], "nice": false, "zero": false}, "axis": null},
            "y": {"datum": -0.00236, "type": "quantitative", "scale": {"domain": [-0.00253, 0.00173], "nice": false, "zero": false}},
            "text": {"field": "b"}
          }
        },
        {
          "data": {"name": "wm"},
          "mark": {"type": "text", "align": "left", "baseline": "alphabetic", "color": "#ffffff", "fontSize": 13},
          "encoding": {
            "x": {"datum": 44.8, "type": "quantitative", "scale": {"domain": [-0.21, 188.8], "nice": false, "zero": false}, "axis": null},
            "y": {"datum": -0.00236, "type": "quantitative", "scale": {"domain": [-0.00253, 0.00173], "nice": false, "zero": false}},
            "text": {"field": "c"}
          }
        },
        {
          "data": {"name": "wm"},
          "mark": {"type": "text", "align": "left", "baseline": "alphabetic", "color": "#ffffff", "fontSize": 18},
          "encoding": {
            "x": {"datum": 55.3, "type": "quantitative", "scale": {"domain": [-0.21, 188.8], "nice": false, "zero": false}, "axis": null},
            "y": {"datum": -0.00236, "type": "quantitative", "scale": {"domain": [-0.00253, 0.00173], "nice": false, "zero": false}},
            "text": {"field": "d"}
          }
        }
      ]
    }
  ]
}
